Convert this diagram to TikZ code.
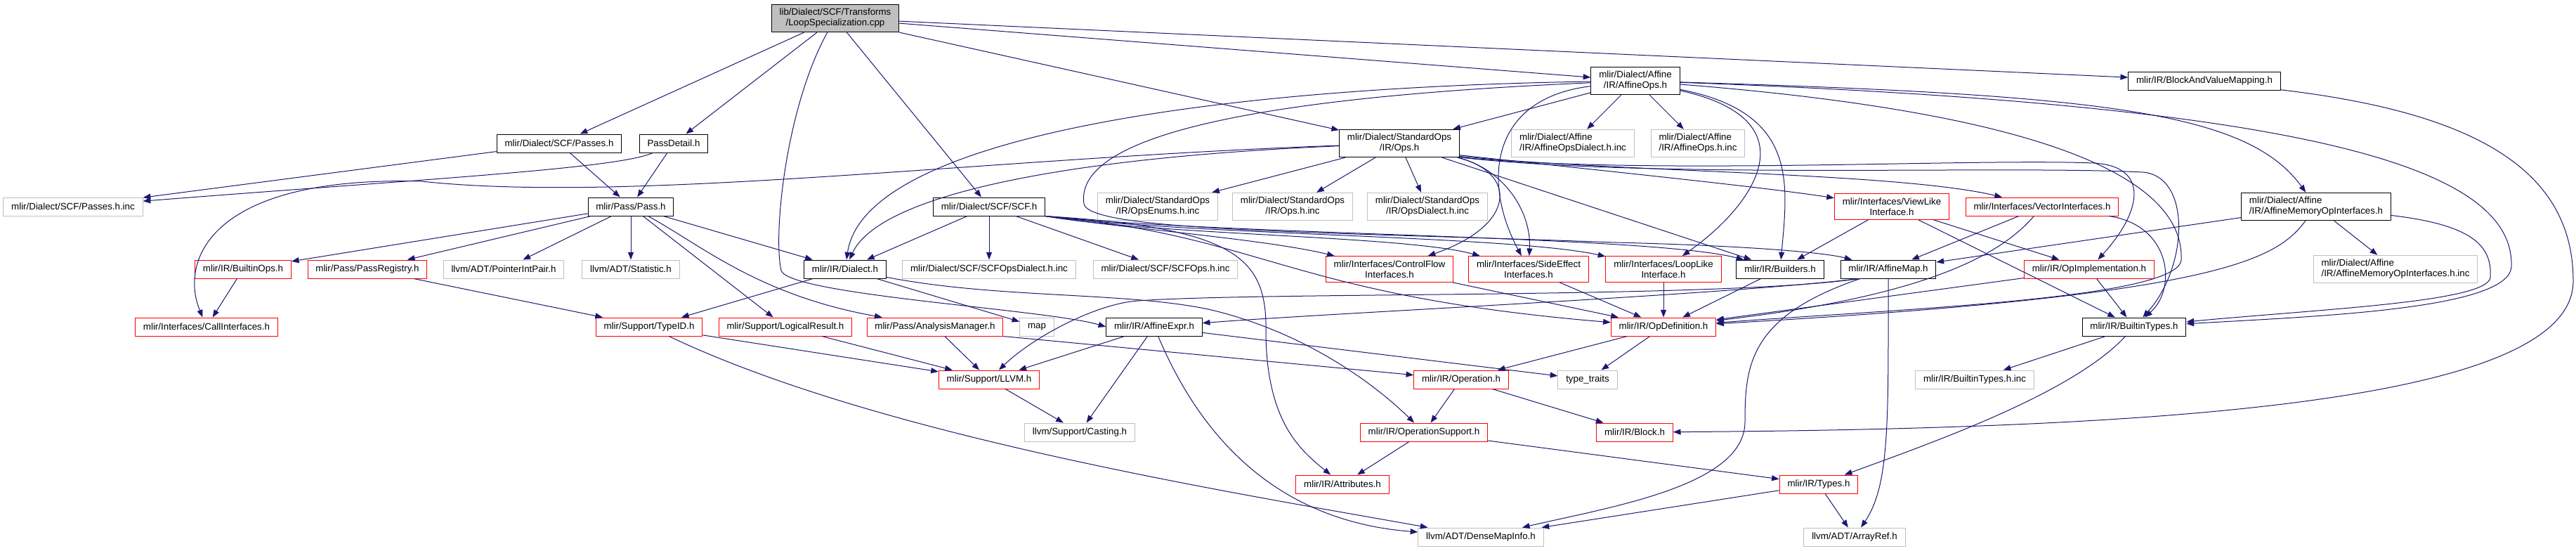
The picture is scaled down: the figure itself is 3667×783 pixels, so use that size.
\documentclass[tikz,border=0pt]{standalone}
\usepackage{fontspec}
\setmainfont{Liberation Sans}
\usetikzlibrary{arrows.meta}
\definecolor{edgeblue}{RGB}{25,25,112}
\definecolor{boxgray}{RGB}{191,191,191}
\definecolor{boxred}{RGB}{255,0,0}

\begin{document}
\begin{tikzpicture}[
    x=0.75pt, y=-0.75pt,
    file/.style={draw=black, line width=0.75pt, fill=white, inner xsep=8.5pt, inner ysep=4.5pt,
                 minimum height=19.5pt, align=center, font=\fontsize{10}{11.25}\selectfont},
    trunc/.style={file, draw=boxred},
    ext/.style={file, draw=boxgray},
    lft/.style={align=left},
    arr/.style={-{Triangle[length=8pt,width=6pt]}, line width=0.75pt, edgeblue}
]
\useasboundingbox (0,0) rectangle (3667,783);

% files
\node[file, fill=boxgray] (root) at (1189,26) {lib/Dialect/SCF/Transforms\\/LoopSpecialization.cpp};
\node[file] (affineops) at (2328,115) {mlir/Dialect/Affine\\/IR/AffineOps.h};
\node[file] (bvmap) at (3138,115) {mlir/IR/BlockAndValueMapping.h};
\node[file] (scfpasses) at (796,204) {mlir/Dialect/SCF/Passes.h};
\node[file] (passdetail) at (959,204) {PassDetail.h};
\node[file] (stdops) at (1992,204) {mlir/Dialect/StandardOps\\/IR/Ops.h};
\node[ext, lft] (affdialectinc) at (2239,204) {mlir/Dialect/Affine\\/IR/AffineOpsDialect.h.inc};
\node[ext, lft] (affopsinc) at (2417,204) {mlir/Dialect/Affine\\/IR/AffineOps.h.inc};
\node[ext] (passesinc) at (104,294) {mlir/Dialect/SCF/Passes.h.inc};
\node[file] (pass) at (898,294) {mlir/Pass/Pass.h};
\node[file] (scf) at (1408,294) {mlir/Dialect/SCF/SCF.h};
\node[ext] (opsenums) at (1648,294) {mlir/Dialect/StandardOps\\/IR/OpsEnums.h.inc};
\node[ext] (opsinc) at (1840,294) {mlir/Dialect/StandardOps\\/IR/Ops.h.inc};
\node[ext] (opsdialectinc) at (2032,294) {mlir/Dialect/StandardOps\\/IR/OpsDialect.h.inc};
\node[trunc] (viewlike) at (2693,294) {mlir/Interfaces/ViewLike\\Interface.h};
\node[trunc] (vectorif) at (2907,294) {mlir/Interfaces/VectorInterfaces.h};
\node[file, lft] (affmemop) at (3297,294) {mlir/Dialect/Affine\\/IR/AffineMemoryOpInterfaces.h};
\node[trunc] (builtinops) at (346,383) {mlir/IR/BuiltinOps.h};
\node[trunc] (passregistry) at (523,383) {mlir/Pass/PassRegistry.h};
\node[ext] (pointerintpair) at (717,383) {llvm/ADT/PointerIntPair.h};
\node[ext] (statistic) at (898,383) {llvm/ADT/Statistic.h};
\node[file] (dialect) at (1203,383) {mlir/IR/Dialect.h};
\node[ext] (scfdialectinc) at (1408,383) {mlir/Dialect/SCF/SCFOpsDialect.h.inc};
\node[ext] (scfopsinc) at (1659,383) {mlir/Dialect/SCF/SCFOps.h.inc};
\node[trunc] (controlflow) at (1978,383) {mlir/Interfaces/ControlFlow\\Interfaces.h};
\node[trunc] (sideeffect) at (2176,383) {mlir/Interfaces/SideEffect\\Interfaces.h};
\node[trunc] (looplike) at (2368,383) {mlir/Interfaces/LoopLike\\Interface.h};
\node[file] (builders) at (2534,383) {mlir/IR/Builders.h};
\node[file] (affinemap) at (2688,383) {mlir/IR/AffineMap.h};
\node[trunc] (opimpl) at (2974,383) {mlir/IR/OpImplementation.h};
\node[ext, lft] (affmemopinc) at (3410,383) {mlir/Dialect/Affine\\/IR/AffineMemoryOpInterfaces.h.inc};
\node[trunc] (callif) at (294,465) {mlir/Interfaces/CallInterfaces.h};
\node[trunc] (typeid) at (924,465) {mlir/Support/TypeID.h};
\node[trunc] (logicalresult) at (1118,465) {mlir/Support/LogicalResult.h};
\node[trunc] (analysis) at (1331,465) {mlir/Pass/AnalysisManager.h};
\node[ext] (map) at (1476,465) {map};
\node[file] (affineexpr) at (1643,465) {mlir/IR/AffineExpr.h};
\node[trunc] (opdef) at (2368,465) {mlir/IR/OpDefinition.h};
\node[file] (builtintypes) at (3038,465) {mlir/IR/BuiltinTypes.h};
\node[trunc] (llvm) at (1408,540) {mlir/Support/LLVM.h};
\node[trunc] (operation) at (2080,540) {mlir/IR/Operation.h};
\node[ext] (typetraits) at (2260,540) {type\_traits};
\node[ext] (builtintypesinc) at (2811,540) {mlir/IR/BuiltinTypes.h.inc};
\node[ext] (casting) at (1537,615) {llvm/Support/Casting.h};
\node[trunc] (opsupport) at (2027,615) {mlir/IR/OperationSupport.h};
\node[trunc] (block) at (2327,615) {mlir/IR/Block.h};
\node[trunc] (attributes) at (1911,689) {mlir/IR/Attributes.h};
\node[trunc] (types) at (2589,689) {mlir/IR/Types.h};
\node[ext] (densemap) at (2108,764) {llvm/ADT/DenseMapInfo.h};
\node[ext] (arrayref) at (2640,764) {llvm/ADT/ArrayRef.h};

% root
\draw[arr] (root) -- (scfpasses);
\draw[arr] (root) -- (passdetail);
\draw[arr] (root) .. controls (1120,150) and (1100,330) .. (1112,385) .. controls (1125,420) and (1490,440) .. (affineexpr.west);
\draw[arr] (root) -- (scf);
\draw[arr] (root) -- (stdops);
\draw[arr] (root) -- (affineops);
\draw[arr] (root) -- (bvmap);

% passes
\draw[arr] (scfpasses) -- (passesinc);
\draw[arr] (scfpasses) -- (pass);
\draw[arr] (passdetail) -- (pass);
\draw[arr] (passdetail) .. controls (880,240) and (600,255) .. (passesinc);
\draw[arr] (pass) -- (builtinops);
\draw[arr] (pass) -- (passregistry);
\draw[arr] (pass) -- (pointerintpair);
\draw[arr] (pass) -- (statistic);
\draw[arr] (pass) -- (dialect);
\draw[arr] (pass) -- (logicalresult);
\draw[arr] (pass) .. controls (1000,350) and (1080,420) .. (analysis);
\draw[arr] (builtinops) -- (callif);
\draw[arr] (passregistry) -- (typeid);
\draw[arr] (dialect) -- (typeid);
\draw[arr] (dialect) -- (map);
\draw[arr] (dialect) .. controls (1420,425) and (1600,415) .. (1720,440) .. controls (1850,470) and (1950,540) .. (opsupport);
\draw[arr] (typeid) -- (llvm);
\draw[arr] (typeid) .. controls (1250,620) and (1750,700) .. (densemap);
\draw[arr] (logicalresult) -- (llvm);
\draw[arr] (analysis) -- (llvm);
\draw[arr] (analysis.south east) -- (operation);
\draw[arr] (affineexpr) -- (llvm);
\draw[arr] (affineexpr) -- (casting);
\draw[arr] (affineexpr) -- (typetraits);
\draw[arr] (affineexpr) .. controls (1700,600) and (1800,740) .. (densemap);
\draw[arr] (llvm) -- (casting);

% ir core
\draw[arr] (opdef) -- (operation);
\draw[arr] (opdef) -- (typetraits);
\draw[arr] (operation) -- (opsupport);
\draw[arr] (operation) -- (block);
\draw[arr] (opsupport) -- (attributes);
\draw[arr] (opsupport) -- (types);
\draw[arr] (types) -- (densemap);
\draw[arr] (types) -- (arrayref);
\draw[arr] (builtintypes) -- (builtintypesinc);
\draw[arr] (builtintypes) .. controls (2950,560) and (2750,630) .. (types);
\draw[arr] (bvmap) .. controls (3520,160) and (3663,240) .. (3663,400) .. controls (3663,570) and (3100,610) .. (block);
\draw[arr] (affinemap.198) .. controls (2450,420) and (1900,445) .. (affineexpr);
\draw[arr] (affinemap.198) .. controls (2450,425) and (1800,415) .. (1620,428) .. controls (1560,432) and (1470,480) .. (llvm);
\draw[arr] (affinemap) .. controls (2688,600) and (2690,690) .. (arrayref);
\draw[arr] (affinemap) .. controls (2490,450) and (2484,520) .. (2484,600) .. controls (2484,690) and (2300,720) .. (densemap);
\draw[arr] (builders) -- (opdef);

% interfaces
\draw[arr] (controlflow) -- (opdef);
\draw[arr] (sideeffect) -- (opdef);
\draw[arr] (looplike) -- (opdef);
\draw[arr] (viewlike) -- (builders);
\draw[arr] (viewlike) -- (opimpl);
\draw[arr] (viewlike) -- (builtintypes);
\draw[arr] (vectorif) -- (affinemap);
\draw[arr] (vectorif) .. controls (2850,360) and (2750,420) .. (opdef);
\draw[arr] (vectorif) .. controls (3090,320) and (3100,410) .. (builtintypes);
\draw[arr] (opimpl) -- (opdef);
\draw[arr] (opimpl) -- (builtintypes);
\draw[arr] (affmemop) -- (affinemap);
\draw[arr] (affmemop) -- (affmemopinc);
\draw[arr] (affmemop) .. controls (3240,370) and (3160,420) .. (opdef);
\draw[arr] (affmemop) .. controls (3520,320) and (3548,350) .. (3545,395) .. controls (3540,430) and (3300,440) .. (builtintypes);

% affine ops
\draw[arr] (affineops) -- (stdops);
\draw[arr] (affineops) -- (affdialectinc);
\draw[arr] (affineops) -- (affopsinc);
\draw[arr] (affineops) .. controls (1700,125) and (1230,200) .. (dialect);
\draw[arr] (affineops) .. controls (1750,140) and (1530,200) .. (1543,290) .. controls (1550,330) and (1900,330) .. (2300,345) .. controls (2500,350) and (2600,360) .. (affinemap);
\draw[arr] (affineops) .. controls (2120,140) and (2110,260) .. (sideeffect);
\draw[arr] (affineops) .. controls (2580,170) and (2500,290) .. (looplike);
\draw[arr] (affineops) .. controls (2560,160) and (2545,260) .. (builders);
\draw[arr] (affineops) .. controls (3000,135) and (3200,160) .. (affmemop);
\draw[arr] (affineops) .. controls (3300,150) and (3580,240) .. (3575,380) .. controls (3570,440) and (3300,450) .. (builtintypes);
\draw[arr] (affineops) .. controls (2900,160) and (3110,250) .. (3105,370) .. controls (3100,425) and (2700,440) .. (opdef);

% standard ops
\draw[arr] (stdops) .. controls (1400,225) and (900,290) .. (600,258) .. controls (300,250) and (255,370) .. (callif);
\draw[arr] (stdops) .. controls (1500,225) and (1250,280) .. (dialect);
\draw[arr] (stdops) -- (opsenums);
\draw[arr] (stdops) -- (opsinc);
\draw[arr] (stdops) -- (opsdialectinc);
\draw[arr] (stdops) .. controls (2160,245) and (2160,320) .. (controlflow);
\draw[arr] (stdops) .. controls (2140,240) and (2180,300) .. (sideeffect);
\draw[arr] (stdops) -- (builders);
\draw[arr] (stdops.-11) .. controls (2300,245) and (2500,265) .. (viewlike);
\draw[arr] (stdops.-12) .. controls (2300,245) and (2700,245) .. (vectorif);
\draw[arr] (stdops.-13) .. controls (2350,250) and (2800,225) .. (2980,232) .. controls (3060,236) and (3050,300) .. (opimpl);
\draw[arr] (stdops.-13) .. controls (2350,255) and (2850,235) .. (3050,245) .. controls (3120,250) and (3115,380) .. (builtintypes);

% scf
\draw[arr] (scf) -- (dialect);
\draw[arr] (scf) -- (scfdialectinc);
\draw[arr] (scf) -- (scfopsinc);
\draw[arr] (scf.south east) .. controls (1770,325) and (1805,370) .. (1802,480) .. controls (1805,600) and (1850,640) .. (attributes);
\draw[arr] (scf.south east) .. controls (1600,325) and (1800,340) .. (controlflow);
\draw[arr] (scf.south east) .. controls (1650,335) and (2000,335) .. (sideeffect);
\draw[arr] (scf.south east) .. controls (1700,335) and (2150,335) .. (looplike);
\draw[arr] (scf.south east) .. controls (1750,335) and (2350,335) .. (builders);
\draw[arr] (scf.south east) .. controls (1800,335) and (1830,420) .. (opdef);
\end{tikzpicture}
\end{document}
